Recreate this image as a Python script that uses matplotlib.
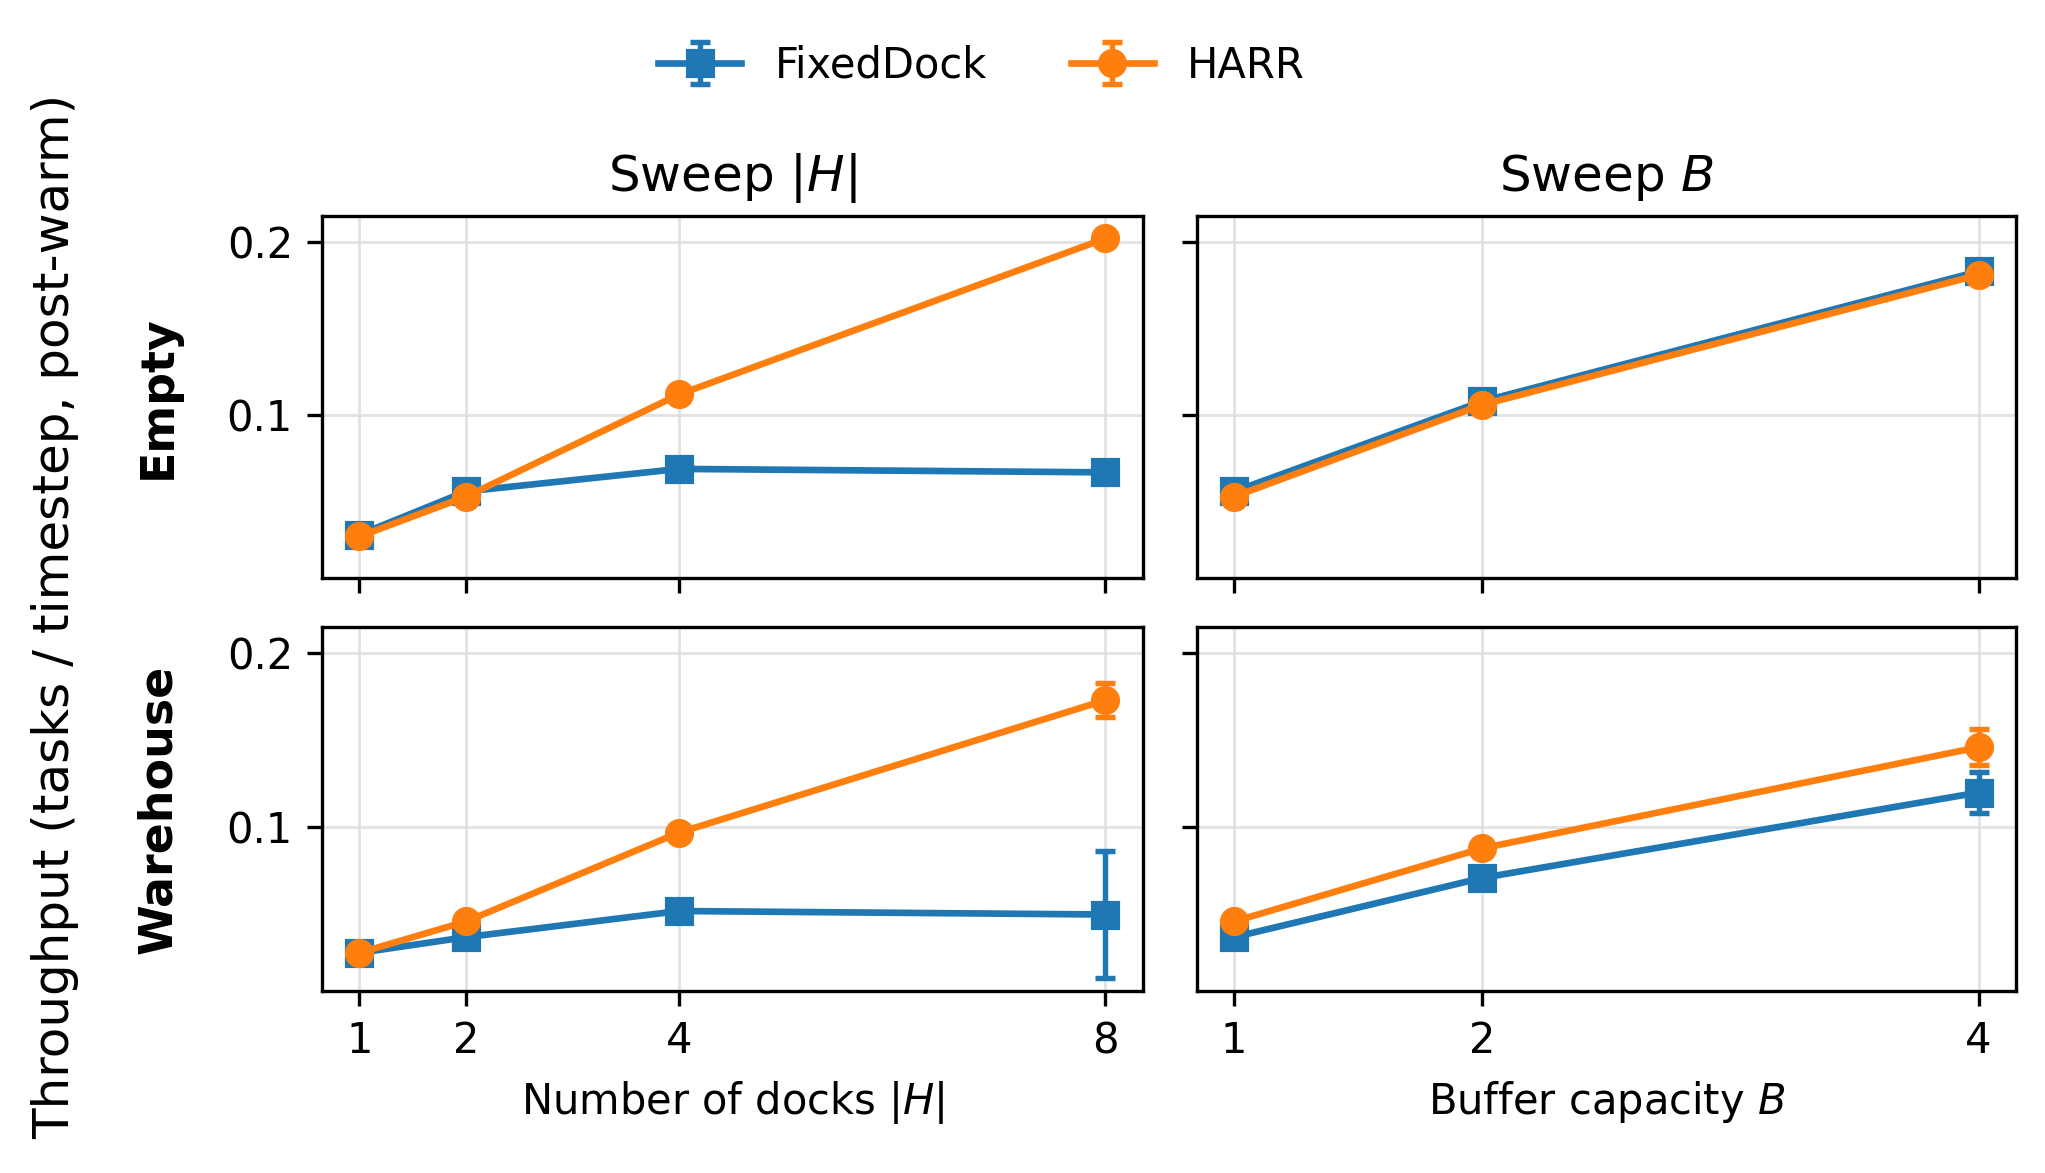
import matplotlib
matplotlib.use("Agg")
import matplotlib.pyplot as plt
import numpy as np

# ---- data ----
docks = [1, 2, 4, 8]
buffers = [1, 2, 4]
series = ["FixedDock", "HARR"]
rows = ["Empty", "Warehouse"]

# Sweep |H|
empty_H_fixed = [0.031, 0.056, 0.069, 0.067]
empty_H_fixed_err = [0.001, 0.001, 0.001, 0.001]
empty_H_harr = [0.030, 0.053, 0.112, 0.202]
empty_H_harr_err = [0.001, 0.001, 0.001, 0.001]
wh_H_fixed = [0.028, 0.037, 0.052, 0.050]
wh_H_fixed_err = [0.001, 0.001, 0.002, 0.0365]
wh_H_harr = [0.028, 0.046, 0.097, 0.173]
wh_H_harr_err = [0.001, 0.001, 0.001, 0.0097]

# Sweep B
empty_B_fixed = [0.056, 0.108, 0.183]
empty_B_fixed_err = [0.001, 0.001, 0.001]
empty_B_harr = [0.053, 0.106, 0.181]
empty_B_harr_err = [0.001, 0.001, 0.001]
wh_B_fixed = [0.037, 0.071, 0.120]
wh_B_fixed_err = [0.001, 0.001, 0.012]
wh_B_harr = [0.046, 0.088, 0.146]
wh_B_harr_err = [0.001, 0.001, 0.0104]

colors = ["#1f77b4", "#ff7f0e"]
markers = ["s", "o"]

fig = plt.figure(figsize=(2045 / 300, 1173 / 300), dpi=300)
lefts = [0.1575, 0.5853]
widths = [0.5588 - 0.1575, 0.9857 - 0.5853]
bottoms = [0.5072, 0.155]
heights = [0.8159 - 0.5072, 0.4655 - 0.155]

axes = [[None, None], [None, None]]
for r in range(2):
    for c in range(2):
        kw = {}
        if r == 1:
            kw["sharex"] = axes[0][c]
        if c == 1:
            kw["sharey"] = axes[r][0]
        elif r == 1:
            kw["sharey"] = axes[0][0]
        axes[r][c] = fig.add_axes([lefts[c], bottoms[r], widths[c], heights[r]], **kw)

data = {
    (0, 0): [(empty_H_fixed, empty_H_fixed_err), (empty_H_harr, empty_H_harr_err)],
    (1, 0): [(wh_H_fixed, wh_H_fixed_err), (wh_H_harr, wh_H_harr_err)],
    (0, 1): [(empty_B_fixed, empty_B_fixed_err), (empty_B_harr, empty_B_harr_err)],
    (1, 1): [(wh_B_fixed, wh_B_fixed_err), (wh_B_harr, wh_B_harr_err)],
}

handles = []
for (r, c), lst in data.items():
    ax = axes[r][c]
    xs = docks if c == 0 else buffers
    for i, (y, e) in enumerate(lst):
        h = ax.errorbar(xs, y, yerr=e, color=colors[i], marker=markers[i],
                        markersize=6, linewidth=1.6, capsize=2.5, elinewidth=1.3,
                        capthick=1.3, label=series[i])
        if r == 0 and c == 0:
            handles.append(h)
    ax.grid(True, color="#dddddd", linewidth=0.7, alpha=0.8)
    ax.set_xticks(xs)
    ax.set_yticks([0.1, 0.2])
    ax.tick_params(labelsize=10)
    if r == 0:
        ax.tick_params(labelbottom=False)
    if c == 1:
        ax.tick_params(labelleft=False)

axes[0][0].set_ylim(0.006, 0.215)
axes[1][0].set_xticklabels([str(v) for v in docks])
axes[1][1].set_xticklabels([str(v) for v in buffers])
axes[0][0].set_yticklabels(["0.1", "0.2"])

axes[0][0].set_title("Sweep $|H|$", fontsize=12)
axes[0][1].set_title("Sweep $B$", fontsize=12)
axes[1][0].set_xlabel("Number of docks $|H|$", fontsize=10)
axes[1][1].set_xlabel("Buffer capacity $B$", fontsize=10)

for r, name in enumerate(rows):
    axes[r][0].set_ylabel(name, fontsize=11, fontweight="bold", labelpad=11)

fig.text(0.027, 0.4744, "Throughput (tasks / timestep, post-warm)", rotation=90,
         va="center", ha="center", fontsize=12)

fig.legend(handles=handles, labels=series, loc="center", ncol=2, frameon=False,
           bbox_to_anchor=(0.48, 0.944), fontsize=10, columnspacing=2.0)

fig.savefig("out.png", dpi=300)
